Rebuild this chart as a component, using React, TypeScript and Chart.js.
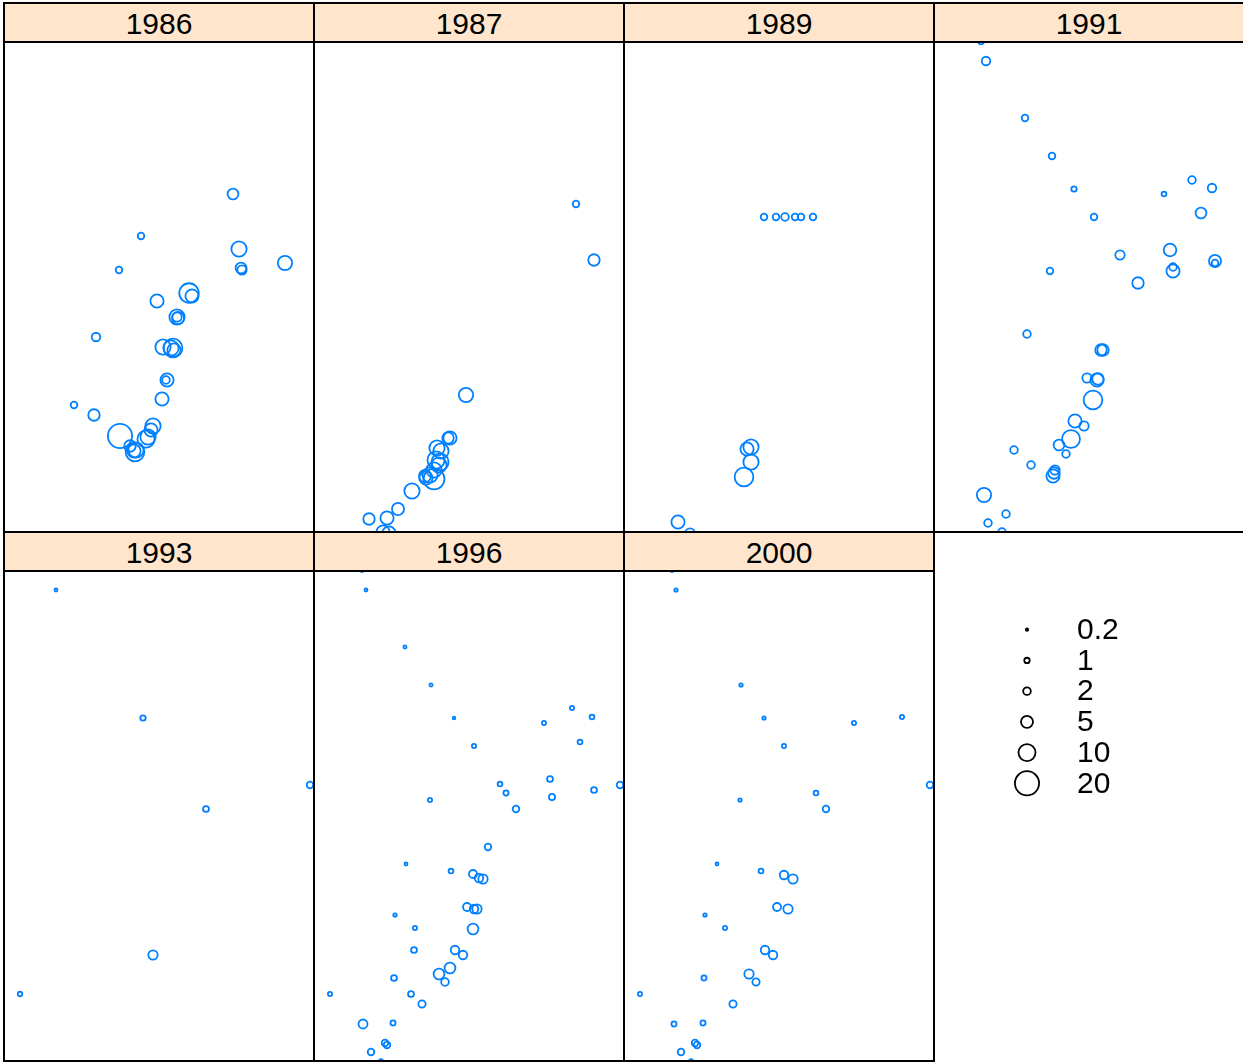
import React, { useEffect, useRef } from "react";
import { Chart, registerables } from "chart.js";

Chart.register(...registerables);

// ---- data (x, y in panel units; size = bubble value) ----
const years = ["1986", "1987", "1989", "1991", "1993", "1996", "2000"];

const x1986 = [229, 137, 235, 115, 237, 238, 281, 185, 188, 153, 173, 173, 174, 92, 159, 169, 167, 170, 163, 162, 158, 70, 90, 116, 149, 147, 144, 142, 126, 131, 132, 130];
const y1986 = [338, 296, 283, 262, 264, 262, 269, 239, 236, 231, 215, 215, 214, 195, 185, 184, 184, 182, 152, 152, 133, 127, 117, 96, 106, 102, 95, 93, 86, 80, 82, 81];
const s1986 = [4, 1.5, 8, 1.5, 4, 3, 7, 13, 6, 6, 8, 3, 5, 2.5, 8, 12, 8, 6, 6, 2, 6, 1.5, 4.5, 20, 8, 6, 8, 10, 4.5, 12, 8, 6];

const x1987 = [262, 280, 152, 136, 134, 123, 127, 122, 126, 125, 120, 116, 111, 120, 112, 98, 84, 73, 55, 69, 75];
const y1987 = [328, 272, 137, 94, 94, 84, 81, 72, 70, 67, 62, 57, 56, 53, 54, 41, 23, 14, 13, 0, -1];
const s1987 = [1.5, 4.5, 7, 6, 4.5, 8, 8, 10, 10, 8, 8, 8, 5, 15, 6, 8, 5, 6, 4.5, 6, 6];

const x1989 = [140, 152, 161, 171, 177, 189, 127, 123, 127, 120, 54, 66];
const y1989 = [315, 315, 315, 315, 315, 315, 85, 83, 70, 55, 10, -1];
const s1989 = [1.5, 1.5, 2, 1.5, 1.5, 1.5, 8, 6, 8, 12, 6, 3];

const x1991 = [47, 52, 91, 118, 140, 160, 230, 258, 278, 267, 186, 236, 239, 239, 281, 281, 116, 204, 93, 167, 169, 153, 163, 164, 159, 141, 150, 137, 125, 132, 80, 97, 121, 119, 120, 50, 72, 54, 68];
const y1991 = [491, 471, 414, 376, 343, 315, 338, 352, 344, 319, 277, 282, 261, 265, 271, 269, 261, 249, 198, 182, 182, 154, 152, 153, 132, 111, 106, 93, 87, 78, 82, 67, 62, 56, 59, 37, 18, 9, 0];
const s1991 = [1.5, 2.5, 1.5, 1.5, 1, 1.5, 0.8, 2, 2.5, 4, 3, 5.5, 6, 2, 5, 1.5, 1.5, 4.5, 2, 4.5, 4.5, 3, 6, 4.5, 12, 6, 3, 11, 4, 2, 2, 2, 3, 6, 4.5, 7, 2, 2, 2];

const x1993 = [52, 139, 306, 202, 149, 16];
const y1993 = [471, 343, 276, 252, 106, 67];
const s1993 = [0.3, 1, 1.5, 1.2, 3, 0.7];

const x1996 = [48, 52, 91, 117, 140, 160, 230, 258, 278, 266, 186, 192, 236, 238, 280, 306, 116, 202, 174, 92, 137, 159, 165, 169, 153, 160, 163, 159, 81, 101, 100, 141, 149, 136, 125, 131, 80, 16, 97, 108, 49, 79, 71, 73, 57, 67];
const y1996 = [490, 471, 414, 376, 343, 315, 338, 353, 344, 319, 277, 268, 282, 264, 271, 276, 261, 252, 214, 197, 190, 187, 183, 182, 154, 152, 152, 132, 146, 133, 111, 111, 106, 93, 87, 79, 83, 67, 67, 57, 37, 38, 18, 16, 9, 0];
const s1996 = [0.2, 0.3, 0.35, 0.35, 0.25, 0.6, 0.6, 0.6, 0.8, 0.8, 0.8, 0.9, 1.2, 1.3, 1.2, 1.5, 0.6, 1.5, 1.5, 0.3, 0.8, 2.2, 2.5, 3, 2.2, 2.5, 3, 4, 0.4, 0.6, 1.2, 2.5, 2.5, 4, 4, 2, 1.2, 0.6, 1.2, 1.8, 2.8, 0.9, 1.5, 1.5, 1.5, 0.5];

const x2000 = [48, 52, 117, 140, 160, 230, 278, 306, 116, 192, 202, 93, 137, 160, 169, 153, 164, 81, 101, 141, 149, 125, 132, 80, 16, 109, 50, 79, 71, 73, 57, 67];
const y2000 = [490, 471, 376, 343, 315, 338, 344, 276, 261, 268, 252, 197, 190, 186, 182, 154, 152, 146, 133, 111, 106, 87, 79, 83, 67, 57, 37, 38, 18, 16, 9, 0];
const s2000 = [0.2, 0.4, 0.4, 0.4, 0.6, 0.6, 0.6, 1.5, 0.4, 0.8, 1.5, 0.3, 0.8, 2.5, 3, 2.2, 3, 0.4, 0.6, 2.5, 2.5, 3, 1.8, 0.9, 0.6, 1.8, 0.9, 0.9, 1.5, 1.5, 1.5, 0.5];

const legendSizes = [0.2, 1, 2, 5, 10, 20];
const legendLabels = ["0.2", "1", "2", "5", "10", "20"];

const panelX = [x1986, x1987, x1989, x1991, x1993, x1996, x2000];
const panelY = [y1986, y1987, y1989, y1991, y1993, y1996, y2000];
const panelS = [s1986, s1987, s1989, s1991, s1993, s1996, s2000];

// ---- layout ----
const COLS = [4, 314, 624, 934];
const PW = 310;
const PH = 490;
const STRIP_TOPS = [3, 532];
const STRIP_H = 39;
const BLUE = "#0080ff";
const FONT = "'Liberation Sans', Arial, Helvetica, sans-serif";
const LW = 1.8;

const radius = (v: number) => 2.7 * Math.sqrt(v);

export default function App() {
  const panelRefs = useRef<(HTMLCanvasElement | null)[]>([]);
  const legendRef = useRef<HTMLCanvasElement | null>(null);

  useEffect(() => {
    const charts: Chart[] = [];
    years.forEach((_, i) => {
      const cv = panelRefs.current[i];
      if (!cv) return;
      const pts = panelX[i].map((x, k) => ({ x, y: panelY[i][k], r: radius(panelS[i][k]) }));
      charts.push(
        new Chart(cv, {
          type: "bubble",
          data: {
            datasets: [
              {
                data: pts,
                backgroundColor: "rgba(0,0,0,0)",
                borderColor: BLUE,
                borderWidth: LW,
                hoverRadius: 0,
                clip: false,
              } as any,
            ],
          },
          options: {
            responsive: false,
            animation: false,
            events: [],
            layout: { padding: 0, autoPadding: false } as any,
            plugins: { legend: { display: false }, tooltip: { enabled: false } },
            scales: {
              x: { type: "linear", min: 0, max: PW, display: false },
              y: { type: "linear", min: 0, max: PH, display: false },
            },
          },
        })
      );
    });

    if (legendRef.current) {
      const labelPlugin = {
        id: "sizeLabels",
        afterDatasetsDraw(chart: any) {
          const ctx = chart.ctx;
          const meta = chart.getDatasetMeta(0);
          ctx.save();
          ctx.fillStyle = "#000";
          ctx.font = `30px ${FONT}`;
          ctx.textBaseline = "middle";
          ctx.textAlign = "left";
          meta.data.forEach((el: any, k: number) => {
            ctx.fillText(legendLabels[k], el.x + 50, el.y + 1);
          });
          ctx.restore();
        },
      };
      charts.push(
        new Chart(legendRef.current, {
          type: "bubble",
          data: {
            datasets: [
              {
                data: legendSizes.map((v, k) => ({ x: 37, y: k, r: radius(v) })),
                backgroundColor: "rgba(0,0,0,0)",
                borderColor: "#000",
                borderWidth: LW,
                hoverRadius: 0,
                clip: false,
              } as any,
            ],
          },
          options: {
            responsive: false,
            animation: false,
            events: [],
            layout: { padding: 0, autoPadding: false } as any,
            plugins: { legend: { display: false }, tooltip: { enabled: false } },
            scales: {
              x: { type: "linear", min: 0, max: 170, display: false },
              y: { type: "linear", min: -1, max: 6, reverse: true, display: false },
            },
          },
          plugins: [labelPlugin],
        })
      );
    }
    return () => charts.forEach((c) => c.destroy());
  }, []);

  const lines: React.CSSProperties[] = [];
  const hLine = (y: number, x1: number, x2: number) =>
    lines.push({ position: "absolute", left: x1 - 1, top: y - 1, width: x2 - x1 + 2, height: 2, background: "#000" });
  const vLine = (x: number, y1: number, y2: number) =>
    lines.push({ position: "absolute", left: x - 1, top: y1 - 1, width: 2, height: y2 - y1 + 2, background: "#000" });
  hLine(3, 4, 1243);
  hLine(42, 4, 1243);
  hLine(532, 4, 1243);
  hLine(571, 4, 934);
  hLine(1061, 4, 934);
  vLine(4, 3, 1061);
  vLine(314, 3, 1061);
  vLine(624, 3, 1061);
  vLine(934, 3, 1061);

  return (
    <div style={{ position: "absolute", left: 0, top: 0, width: 1243, height: 1062, background: "#fff", overflow: "hidden" }}>
      {years.map((yr, i) => {
        const col = i % 4;
        const row = Math.floor(i / 4);
        const left = COLS[col];
        const stripTop = STRIP_TOPS[row];
        return (
          <React.Fragment key={yr}>
            <div
              style={{
                position: "absolute",
                left,
                top: stripTop,
                width: PW,
                height: STRIP_H,
                background: "#ffe5cc",
                display: "flex",
                alignItems: "center",
                justifyContent: "center",
                fontFamily: FONT,
                fontSize: 30,
                color: "#000",
                lineHeight: 1,
                paddingTop: 2,
                boxSizing: "border-box",
              }}
            >
              {yr}
            </div>
            <canvas
              ref={(el) => {
                panelRefs.current[i] = el;
              }}
              width={PW}
              height={PH}
              style={{ position: "absolute", left, top: stripTop + STRIP_H, width: PW, height: PH }}
            />
          </React.Fragment>
        );
      })}
      <canvas
        ref={legendRef}
        width={170}
        height={215}
        style={{ position: "absolute", left: 990, top: 599, width: 170, height: 215 }}
      />
      {lines.map((s, k) => (
        <div key={k} style={s} />
      ))}
    </div>
  );
}
